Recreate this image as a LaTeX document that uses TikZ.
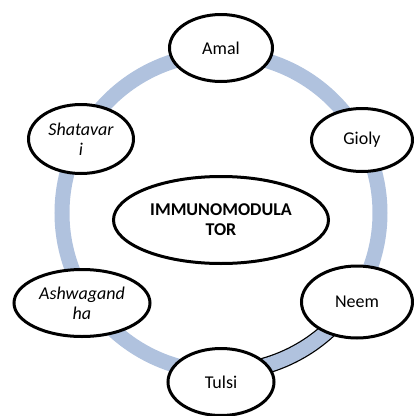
\documentclass[tikz,border=0pt]{standalone}
\usepackage{fontspec}
\setmainfont{Carlito}
\usetikzlibrary{shapes.geometric}
\definecolor{ringblue}{RGB}{176,194,222}
\tikzset{x=1pt, y=-1pt}
\tikzset{herb/.style={ellipse, draw=black, line width=3pt, fill=white, align=center,
  inner sep=0pt, font=\fontsize{18}{20}\selectfont}}

\begin{document}
\begin{tikzpicture}
\useasboundingbox (0,0) rectangle (414,416);
\coordinate (mid) at (221,213);
\draw[ringblue, line width=15pt] (mid) circle[radius=159]; % the ring
\draw[black, line width=17pt] (mid) ++(35:159) arc[start angle=35, end angle=85, radius=159];
\draw[ringblue, line width=14.5pt] (mid) ++(34:159) arc[start angle=34, end angle=86, radius=159];
% herbs round the ring
\node[herb, minimum width=103, minimum height=67] (amal) at (221,48) {Amal};
\node[herb, minimum width=101, minimum height=63] (gioly) at (362,140) {Gioly};
\node[herb, minimum width=111, minimum height=72] (neem) at (357,302) {Neem};
\node[herb, minimum width=106, minimum height=67] (tulsi) at (221,382) {Tulsi};
\node[herb, minimum width=136, minimum height=67] (ashwa) at (82,303) {\itshape Ashwagand\\\itshape ha};
\node[herb, minimum width=105, minimum height=69] (shata) at (81,139) {\itshape Shatavar\\\itshape i};
\node[herb, minimum width=215, minimum height=87] (immuno) at (221,220) {\bfseries IMMUNOMODULA\\\bfseries TOR};
\end{tikzpicture}
\end{document}
